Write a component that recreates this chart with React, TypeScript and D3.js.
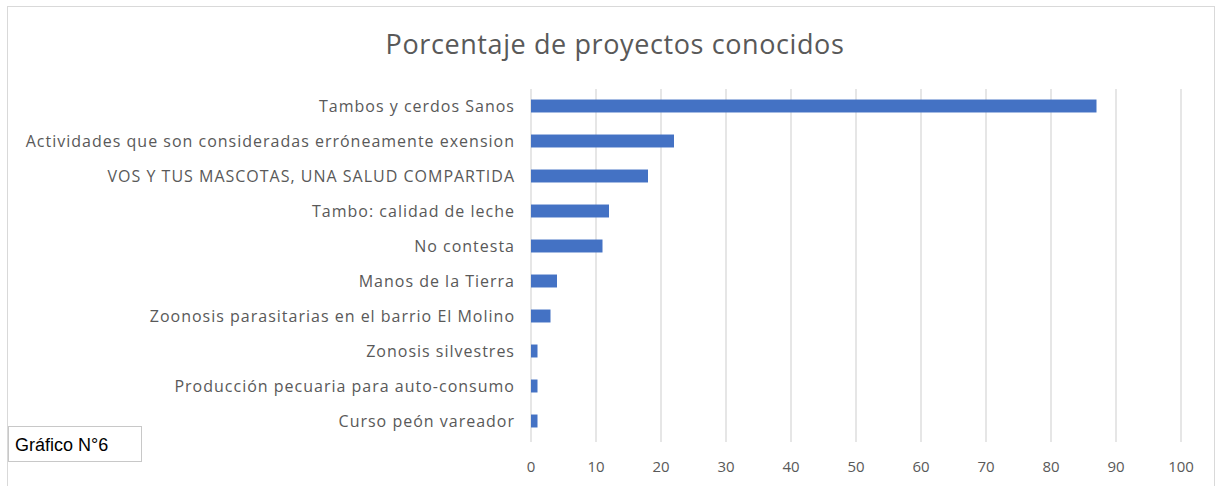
import React from "react";
import * as d3 from "d3";

const categories = [
  "Tambos y cerdos Sanos",
  "Actividades que son consideradas erróneamente exension",
  "VOS Y TUS MASCOTAS, UNA SALUD COMPARTIDA",
  "Tambo: calidad de leche",
  "No contesta",
  "Manos de la Tierra",
  "Zoonosis parasitarias en el barrio El Molino",
  "Zonosis silvestres",
  "Producción pecuaria para auto-consumo",
  "Curso peón vareador",
];
const values = [87, 22, 18, 12, 11, 4, 3, 1, 1, 1];
const xTicks = [0, 10, 20, 30, 40, 50, 60, 70, 80, 90, 100];
const title = "Porcentaje de proyectos conocidos";
const caption = "Gráfico N°6";

const W = 1224;
const H = 486;
const plot = { left: 531, right: 1181, top: 88.5, bottom: 438.5 };
const FONT = "'Open Sans', 'DejaVu Sans', sans-serif";

export default function App() {
  const x = d3.scaleLinear().domain([0, 100]).range([plot.left, plot.right]);
  const y = d3
    .scaleBand<string>()
    .domain(categories)
    .range([plot.top, plot.bottom])
    .paddingInner(0.63)
    .paddingOuter(0.315);

  return (
    <svg
      width={W}
      height={H}
      style={{ position: "absolute", left: 0, top: 0, background: "#fff" }}
    >
      <rect x={7.5} y={6.5} width={1207} height={490} fill="#fff" stroke="#d9d9d9" strokeWidth={1} />
      <text
        x={615}
        y={54}
        textAnchor="middle"
        fontFamily={FONT}
        fontSize={27}
        letterSpacing={0.6}
        fill="#595959"
      >
        {title}
      </text>
      {xTicks.map((t) => (
        <g key={t}>
          <line
            x1={x(t)}
            x2={x(t)}
            y1={89}
            y2={442}
            stroke="#d9d9d9"
            strokeWidth={1.3}
          />
          <text
            x={x(t)}
            y={472}
            textAnchor="middle"
            fontFamily={FONT}
            fontSize={15}
            fill="#595959"
          >
            {t}
          </text>
        </g>
      ))}
      {categories.map((c, i) => (
        <g key={c}>
          <rect
            x={x(0)}
            y={y(c)!}
            width={x(values[i]) - x(0)}
            height={y.bandwidth()}
            fill="#4472c4"
          />
          <text
            x={515}
            y={y(c)! + y.bandwidth() / 2}
            dy="0.35em"
            textAnchor="end"
            fontFamily={FONT}
            fontSize={16}
            letterSpacing={1}
            fill="#595959"
          >
            {c}
          </text>
        </g>
      ))}
      <rect x={8.5} y={426.5} width={133} height={35} fill="#fff" stroke="#c8c8c8" strokeWidth={1} />
      <text x={15} y={451} fontFamily="'Liberation Sans', Arial, sans-serif" fontSize={18} fill="#000">
        {caption}
      </text>
    </svg>
  );
}
